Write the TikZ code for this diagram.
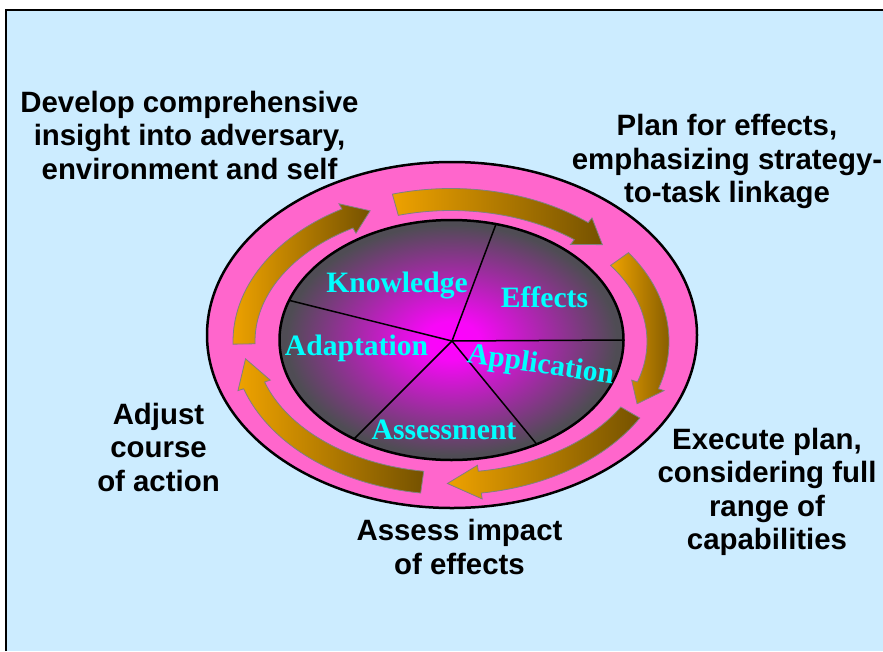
\documentclass[tikz,border=0pt]{standalone}
\usepackage{fontspec}
\setmainfont{Liberation Serif}
\setsansfont{Liberation Sans}
\usetikzlibrary{calc}
\usepackage{xcolor}

\definecolor{slidebg}{RGB}{204,236,255}
\definecolor{ringpink}{RGB}{255,102,204}
\definecolor{arroworange}{RGB}{238,162,0}
\definecolor{arrowbrown}{RGB}{117,82,0}
\definecolor{labelcyan}{RGB}{0,255,255}

\pgfdeclareradialshading{piefill}{\pgfpoint{0bp}{0bp}}{rgb(0bp)=(1,0,1); rgb(4bp)=(0.97,0.03,0.97); rgb(24bp)=(0.31,0.30,0.33); rgb(50bp)=(0.31,0.30,0.33)}

\tikzset{
    outerlabel/.style={font=\sffamily\bfseries\fontsize{29.4}{33.5}\selectfont, align=center, inner sep=0pt},
    pielabel/.style={font=\rmfamily\bfseries\fontsize{29.6}{30}\selectfont, text=labelcyan, inner sep=0pt, anchor=base},
    ringarrow/.style={draw=gray, line width=0.8pt, left color=arroworange, right color=arrowbrown},
    pieline/.style={line width=1.5pt}
}

\begin{document}
\begin{tikzpicture}[x=1pt, y=1pt]
    \useasboundingbox (0,0) rectangle (883,-651);
    \fill[white] (0,0) rectangle (883,-651);
    \fill[slidebg] (6,-10) rectangle (883,-651);
    \draw[line width=2pt] (6,-651) -- (6,-10) -- (883,-10);

    \path (452,-335) coordinate (R);
    \path (451.5,-340) coordinate (E);
    \path (452,-341) coordinate (P);

    \filldraw[fill=ringpink, line width=2.5pt] (R) ellipse [x radius=245, y radius=173];

    \shade[shading=piefill] (E) ellipse [x radius=172, y radius=120];
    \foreach \a in {75,160.7,0,235.5,299.7}
        \draw[pieline] (P) -- ($(E)+(\a:172 and 120)$);
    \draw[line width=2.5pt] (E) ellipse [x radius=172, y radius=120];

    \begin{scope}[shift={(451,-341.5)}]
        \foreach \from/\base/\tip in {181/120/113, 105.6/51/43, 35.5/-18/-26, -30/-82/-91, -98/-162/-173}
            \path[ringarrow] (\from:218 and 153)
                arc[start angle=\from, end angle=\base, x radius=218, y radius=153]
                -- (\base:224 and 159) -- (\tip:207 and 142) -- (\base:190 and 125)
                -- (\base:196 and 131)
                arc[start angle=\base, end angle=\from, x radius=196, y radius=131]
                -- cycle;
    \end{scope}

    \node[pielabel] (knowledge) at (397,-292) {Knowledge};
    \node[pielabel] (effects) at (544.5,-307.7) {Effects};
    \node[pielabel] (adaptation) at (356.5,-355) {Adaptation};
    \node[pielabel, rotate=-8.5] (application) at (539.5,-373) {Application};
    \node[pielabel] (assessment) at (444,-439) {Assessment};

    \node[outerlabel] (develop) at (189.5,-135) {Develop comprehensive\\insight into adversary,\\environment and self};
    \node[outerlabel] (plan) at (727,-161.5) {Plan for effects,\\emphasizing strategy-\\to-task linkage};
    \node[outerlabel] (execute) at (767,-492) {Execute plan,\\considering full\\range of\\capabilities};
    \node[outerlabel] (assess) at (459.5,-547) {Assess impact\\of effects};
    \node[outerlabel] (adjust) at (158.5,-447) {Adjust\\course\\of action};
\end{tikzpicture}
\end{document}
